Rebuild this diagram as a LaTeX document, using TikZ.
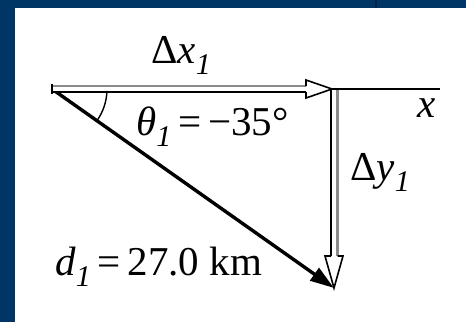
\documentclass[tikz,border=0pt]{standalone}
\usepackage{fontspec}
\setmainfont{Liberation Serif}
\usetikzlibrary{arrows.meta}
\definecolor{bgblue}{RGB}{0,54,102}
\definecolor{barline}{RGB}{0,34,70}
\definecolor{shaftgray}{RGB}{140,140,140}
\newcommand{\lsub}[1]{\raisebox{-0.28em}{\fontsize{30}{30}\selectfont\itshape #1}}
\tikzset{
  lbl/.style={inner sep=0pt, font=\fontsize{41}{41}\selectfont, anchor=base west},
  blackedge/.style={draw=black, line width=1.6pt},
  grayedge/.style={draw=shaftgray, line width=2.4pt},
  headstyle/.style={draw=black, fill=white, line width=1.6pt, line join=miter},
  dvec/.style={draw=black, line width=3.4pt, -{Triangle[length=24pt,width=15pt]}},
}
\begin{document}
\begin{tikzpicture}[x=1pt,y=-1pt]
\useasboundingbox (0,0) rectangle (466,322);
\fill[bgblue] (0,0) rectangle (466,322);
\fill[white] (15,8) rectangle (466,322);
\draw[barline, line width=1.5pt] (376,0) -- (376,8);
% named points
\coordinate (O) at (52,89);
\coordinate (C) at (332,89);
\coordinate (T) at (334,288);
\coordinate (Xend) at (440,89);
% x axis
\draw[line width=1.2pt] (C) -- (Xend);
% diagonal d1
\draw[dvec] (O) -- (T);
% horizontal double arrow
\fill[white] (52,86) rectangle (306,92);
\draw[grayedge] (52,86) -- (306,86);
\draw[blackedge] (52,92) -- (306,92);
\draw[blackedge] (52,83.5) -- (52,93.5);
\draw[headstyle] (306,86) -- (306,80) -- (C) -- (306,98) -- (306,92);
% vertical double arrow
\fill[white] (331,90) rectangle (338,256);
\draw[blackedge] (331,90) -- (331,256);
\draw[grayedge] (337.5,90) -- (337.5,256);
\draw[headstyle] (331,256) -- (325,256) -- (T) -- (343,256) -- (337.5,256);
% angle arc
\draw[line width=1.4pt] (O) ++(2:55) arc[start angle=2, end angle=35, radius=55];
% labels
\node[lbl] (dx) at (151,63) {Δ\textit{x}\lsub{1}};
\node[lbl] (th) at (136,135) {\textit{θ}\lsub{1}\,=\,−35°};
\node[lbl] (dy) at (350,180) {Δ\textit{y}\lsub{1}};
\node[lbl] (xl) at (417,117) {\textit{x}};
\node[lbl] (dl) at (55,275) {\textit{d}\lsub{1}\,=\,27.0 km};
\end{tikzpicture}
\end{document}
